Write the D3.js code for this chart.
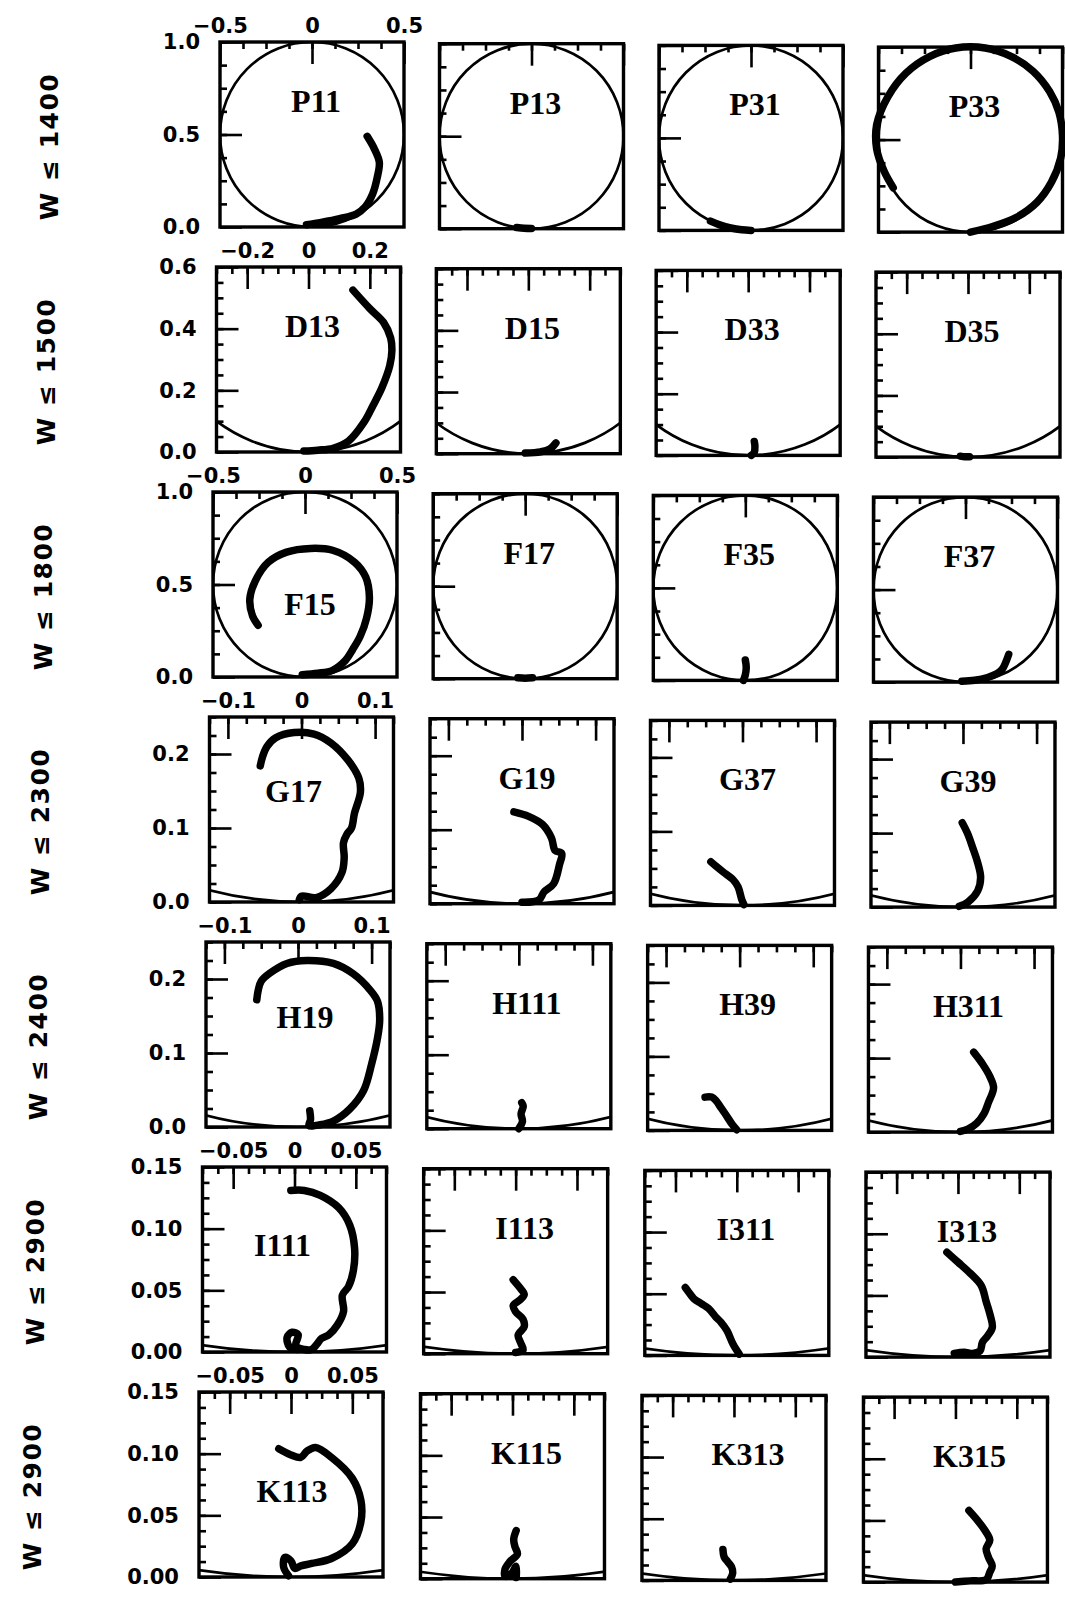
<!DOCTYPE html>
<html>
<head>
<meta charset="utf-8">
<script src="https://cdn.jsdelivr.net/npm/d3@7"></script>
<style>
  body { margin: 0; background: #fff; }
  svg { display: block; }
</style>
</head>
<body>
<svg id="chart" width="1065" height="1607"></svg>
<script>
// one row per energy cut, four partial waves per row
const rowLabels = ["W ≤ 1400", "W ≤ 1500", "W ≤ 1800", "W ≤ 2300", "W ≤ 2400", "W ≤ 2900", "W ≤ 2900"];
const panelNames = [
    ["P11", "P13", "P31", "P33"],
    ["D13", "D15", "D33", "D35"],
    ["F15", "F17", "F35", "F37"],
    ["G17", "G19", "G37", "G39"],
    ["H19", "H111", "H39", "H311"],
    ["I111", "I113", "I311", "I313"],
    ["K113", "K115", "K313", "K315"],
];

// axis ranges and ticks for each row
const xHalf = [0.5, 0.3, 0.5, 0.125, 0.125, 0.075, 0.075];
const yTop = [1, 0.6, 1, 0.25, 0.25, 0.15, 0.15];
const minorStep = [0.125, 0.05, 0.125, 0.025, 0.025, 0.0125, 0.0125];
const xMajor = [[-0.5, 0, 0.5], [-0.2, 0, 0.2], [-0.5, 0, 0.5], [-0.1, 0, 0.1], [-0.1, 0, 0.1], [-0.05, 0, 0.05], [-0.05, 0, 0.05]];
const xMajorLabels = [["−0.5", "0", "0.5"], ["−0.2", "0", "0.2"], ["−0.5", "0", "0.5"], ["−0.1", "0", "0.1"], ["−0.1", "0", "0.1"], ["−0.05", "0", "0.05"], ["−0.05", "0", "0.05"]];
const yMajor = [[0, 0.5, 1], [0, 0.2, 0.4, 0.6], [0, 0.5, 1], [0, 0.1, 0.2], [0, 0.1, 0.2], [0, 0.05, 0.1, 0.15], [0, 0.05, 0.1, 0.15]];
const yMajorLabels = [["0.0", "0.5", "1.0"], ["0.0", "0.2", "0.4", "0.6"], ["0.0", "0.5", "1.0"], ["0.0", "0.1", "0.2"], ["0.0", "0.1", "0.2"], ["0.00", "0.05", "0.10", "0.15"], ["0.00", "0.05", "0.10", "0.15"]];

// Argand curves: [Re T, Im T]
const P11 = [[-0.03, 0.012], [0.05, 0.025], [0.15, 0.045], [0.24, 0.07], [0.29, 0.11], [0.33, 0.18], [0.355, 0.27], [0.366, 0.35], [0.34, 0.42], [0.3, 0.49]];
const P13 = [[-0.08, 0.006], [-0.04, 0.002], [0.0, 0.001]];
const P31 = [[-0.22, 0.05], [-0.17, 0.03], [-0.11, 0.013], [-0.05, 0.003], [0.0, 0.0]];
const P33 = [[0.0, 0.0], [0.12, 0.03], [0.25, 0.08], [0.36, 0.16], [0.44, 0.27], [0.49, 0.4], [0.5, 0.52], [0.48, 0.65], [0.43, 0.76], [0.34, 0.87], [0.22, 0.95], [0.08, 0.995], [-0.08, 0.995], [-0.22, 0.95], [-0.35, 0.86], [-0.45, 0.73], [-0.51, 0.58], [-0.51, 0.45], [-0.47, 0.33], [-0.42, 0.24]];

const D13 = [[-0.015, 0.003], [0.03, 0.006], [0.08, 0.012], [0.13, 0.035], [0.18, 0.095], [0.21, 0.15], [0.24, 0.21], [0.265, 0.28], [0.272, 0.33], [0.268, 0.37], [0.245, 0.42], [0.2, 0.465], [0.145, 0.525]];
const D15 = [[-0.01, 0.002], [0.04, 0.006], [0.07, 0.015], [0.09, 0.035]];
const D33 = [[0.01, 0.0], [0.02, 0.01], [0.022, 0.03], [0.02, 0.045]];
const D35 = [[-0.025, 0.003], [-0.01, 0.001], [0.005, 0.001]];

const F15 = [[-0.015, 0.012], [0.07, 0.02], [0.15, 0.036], [0.22, 0.09], [0.26, 0.15], [0.3, 0.22], [0.335, 0.32], [0.35, 0.43], [0.33, 0.54], [0.27, 0.62], [0.15, 0.685], [0.03, 0.695], [-0.1, 0.675], [-0.2, 0.62], [-0.27, 0.52], [-0.3, 0.42], [-0.285, 0.33], [-0.255, 0.28]];
const F17 = [[-0.04, 0.005], [0.0, 0.003], [0.04, 0.005]];
const F35 = [[-0.01, 0.0], [0.0, 0.03], [0.005, 0.07], [0.0, 0.11]];
const F37 = [[-0.02, 0.005], [0.05, 0.01], [0.12, 0.025], [0.17, 0.045], [0.2, 0.07], [0.22, 0.11], [0.235, 0.15]];

const G17 = [[-0.003, 0.003], [0.0, 0.008], [0.02, 0.006], [0.04, 0.018], [0.055, 0.04], [0.058, 0.06], [0.057, 0.08], [0.062, 0.092], [0.068, 0.1], [0.072, 0.12], [0.08, 0.148], [0.078, 0.167], [0.063, 0.192], [0.04, 0.215], [0.017, 0.227], [-0.01, 0.229], [-0.035, 0.222], [-0.047, 0.21], [-0.053, 0.196], [-0.056, 0.184]];
const G19 = [[0.0, 0.002], [0.023, 0.005], [0.03, 0.016], [0.043, 0.027], [0.051, 0.053], [0.054, 0.068], [0.045, 0.072], [0.04, 0.089], [0.028, 0.107], [0.009, 0.118], [-0.011, 0.124]];
const G37 = [[0.002, 0.001], [-0.001, 0.008], [-0.006, 0.025], [-0.013, 0.035], [-0.026, 0.045], [-0.036, 0.053], [-0.043, 0.059]];
const G39 = [[-0.005, 0.001], [0.007, 0.007], [0.02, 0.022], [0.024, 0.04], [0.02, 0.06], [0.013, 0.081], [0.006, 0.1], [-0.001, 0.114]];

const H19 = [[0.016, 0.022], [0.017, 0.01], [0.015, 0.002], [0.03, 0.003], [0.048, 0.008], [0.07, 0.024], [0.089, 0.049], [0.1, 0.085], [0.108, 0.12], [0.111, 0.145], [0.108, 0.17], [0.098, 0.185], [0.075, 0.207], [0.048, 0.221], [0.012, 0.225], [-0.015, 0.221], [-0.038, 0.208], [-0.05, 0.197], [-0.054, 0.185], [-0.056, 0.172]];
const H111 = [[0.0, 0.0], [0.005, 0.01], [0.003, 0.02], [0.006, 0.03], [0.004, 0.035]];
const H39 = [[-0.004, 0.001], [-0.01, 0.008], [-0.018, 0.02], [-0.025, 0.03], [-0.032, 0.04], [-0.038, 0.045], [-0.047, 0.045]];
const H311 = [[0.0, 0.001], [0.01, 0.004], [0.022, 0.012], [0.032, 0.025], [0.038, 0.04], [0.045, 0.06], [0.04, 0.075], [0.03, 0.092], [0.018, 0.108]];

const I111 = [[0.003, 0.002], [-0.004, 0.004], [-0.006, 0.012], [-0.002, 0.016], [0.003, 0.014], [0.001, 0.005], [0.008, 0.002], [0.014, 0.002], [0.018, 0.006], [0.022, 0.011], [0.028, 0.014], [0.035, 0.022], [0.04, 0.033], [0.039, 0.046], [0.044, 0.053], [0.048, 0.066], [0.049, 0.084], [0.045, 0.103], [0.036, 0.117], [0.021, 0.127], [0.008, 0.131], [-0.003, 0.131]];
const I113 = [[0.0, 0.001], [0.006, 0.003], [0.004, 0.009], [0.002, 0.015], [0.007, 0.022], [0.006, 0.028], [0.0, 0.034], [-0.002, 0.039], [0.004, 0.044], [0.007, 0.048], [0.003, 0.054], [-0.002, 0.06]];
const I311 = [[0.002, 0.001], [-0.003, 0.009], [-0.008, 0.02], [-0.013, 0.027], [-0.017, 0.031], [-0.023, 0.038], [-0.029, 0.042], [-0.035, 0.046], [-0.039, 0.051], [-0.042, 0.055]];
const I313 = [[-0.003, 0.003], [0.005, 0.004], [0.012, 0.003], [0.018, 0.005], [0.02, 0.012], [0.024, 0.017], [0.028, 0.024], [0.026, 0.035], [0.023, 0.045], [0.019, 0.058], [0.01, 0.068], [0.0, 0.077], [-0.009, 0.085]];

const K113 = [[-0.002, 0.001], [-0.006, 0.008], [-0.005, 0.016], [0.0, 0.013], [0.003, 0.007], [0.008, 0.009], [0.017, 0.011], [0.033, 0.015], [0.05, 0.027], [0.057, 0.045], [0.057, 0.062], [0.05, 0.08], [0.033, 0.097], [0.02, 0.105], [0.013, 0.102], [0.008, 0.097], [0.0, 0.099], [-0.01, 0.104]];
const K115 = [[0.003, 0.001], [0.003, 0.01], [-0.001, 0.004], [-0.006, 0.002], [-0.006, 0.008], [-0.002, 0.014], [0.004, 0.02], [0.002, 0.026], [0.001, 0.032], [0.003, 0.039]];
const K313 = [[-0.003, 0.001], [-0.001, 0.006], [-0.002, 0.011], [-0.005, 0.015], [-0.008, 0.019], [-0.009, 0.025]];
const K315 = [[0.0, 0.0], [0.012, 0.001], [0.025, 0.002], [0.028, 0.008], [0.03, 0.013], [0.027, 0.02], [0.025, 0.027], [0.028, 0.034], [0.024, 0.042], [0.018, 0.05], [0.011, 0.058]];

const curveOf = {
    P11, P13, P31, P33, D13, D15, D33, D35, F15, F17, F35, F37,
    G17, G19, G37, G39, H19, H111, H39, H311, I111, I113, I311, I313,
    K113, K115, K313, K315,
};

// layout (scan is slightly skewed, so panels drift a little)
const W = 184, H = 185;
const labelDx = [96, 96, 96, 97, 100, 101, 106];
const labelSpecial = { F15: [97, 112], G17: [84, 74], H19: [99, 75], I111: [80, 78], K113: [93, 99] };

const svg = d3.select("#chart");

panelNames.forEach((names, r) => {
    const rowTop = 42 + r * 225;

    svg.append("text")
        .attr("transform", `translate(${49 - 2.7 * r},${rowTop + H / 2 + 12}) rotate(-90)`)
        .attr("text-anchor", "middle")
        .attr("dominant-baseline", "central")
        .style("font-family", "DejaVu Sans")
        .style("font-weight", "bold")
        .style("font-size", "25px")
        .style("letter-spacing", "1.5px")
        .text(rowLabels[r]);

    names.forEach((name, c) => {
        const left = 220 + c * 219.5 - r * (3.5 - c * 0.33);
        const top = rowTop + c * 1.7;

        const x = d3.scaleLinear().domain([-xHalf[r], xHalf[r]]).range([0, W]);
        const y = d3.scaleLinear().domain([0, yTop[r]]).range([H, 0]);

        const g = svg.append("g").attr("transform", `translate(${left},${top})`);

        const clipId = "clip-" + name;
        g.append("clipPath").attr("id", clipId)
            .append("rect").attr("width", W).attr("height", H);

        // unitarity circle
        g.append("ellipse")
            .attr("clip-path", `url(#${clipId})`)
            .attr("cx", x(0)).attr("cy", y(0.5))
            .attr("rx", x(0.5) - x(0)).attr("ry", y(0) - y(0.5))
            .attr("fill", "none").attr("stroke", "#000").attr("stroke-width", 2.7);

        const eps = 1e-9;
        const minorX = d3.range(-xHalf[r], xHalf[r] + eps, minorStep[r]);
        const minorY = d3.range(0, yTop[r] + eps, minorStep[r]);

        const styleAxis = (a) => {
            a.select(".domain").remove();
            a.selectAll("line").attr("stroke-width", 2.6);
            a.selectAll("text")
                .style("font-family", "DejaVu Sans")
                .style("font-weight", "bold")
                .style("font-size", "21px");
        };

        g.append("g").call(d3.axisTop(x).tickValues(minorX).tickSize(-7).tickFormat("")).call(styleAxis);
        g.append("g").call(d3.axisLeft(y).tickValues(minorY).tickSize(-7).tickFormat("")).call(styleAxis);

        g.append("g")
            .call(d3.axisTop(x).tickValues(xMajor[r]).tickSize(-22).tickPadding(9)
                .tickFormat((d, i) => c === 0 ? xMajorLabels[r][i] : ""))
            .call(styleAxis);
        g.append("g")
            .call(d3.axisLeft(y).tickValues(yMajor[r]).tickSize(-22).tickPadding(20)
                .tickFormat((d, i) => c === 0 ? yMajorLabels[r][i] : ""))
            .call(styleAxis);

        const line = d3.line()
            .x(d => x(d[0]))
            .y(d => y(d[1]))
            .curve(d3.curveCatmullRom.alpha(0.5));

        g.append("path")
            .datum(curveOf[name])
            .attr("d", line)
            .attr("fill", "none")
            .attr("stroke", "#000")
            .attr("stroke-width", 7.5)
            .attr("stroke-linecap", "round")
            .attr("stroke-linejoin", "round");

        g.append("rect")
            .attr("width", W).attr("height", H)
            .attr("fill", "none").attr("stroke", "#000").attr("stroke-width", 3.4);

        const lp = labelSpecial[name] || [labelDx[r], 59];
        g.append("text")
            .attr("x", lp[0]).attr("y", lp[1])
            .attr("text-anchor", "middle")
            .attr("dominant-baseline", "central")
            .style("font-family", "Liberation Serif")
            .style("font-weight", "bold")
            .style("font-size", "32px")
            .text(name);
    });
});
</script>
</body>
</html>
